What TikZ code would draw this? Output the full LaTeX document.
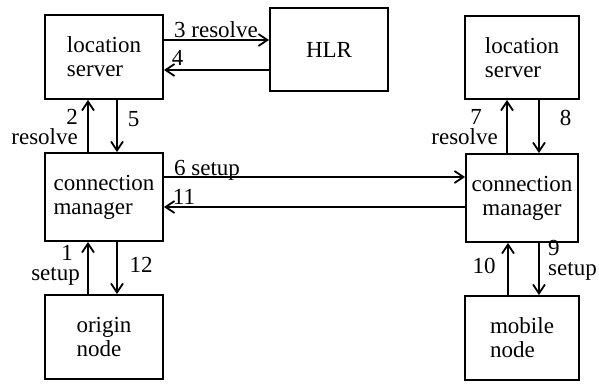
\documentclass[tikz,border=0pt]{standalone}
\usepackage{fontspec}
\setmainfont{Liberation Serif}
\usetikzlibrary{arrows.meta}
\tikzset{
  box/.style={draw, line width=1.8pt, rectangle, inner sep=0pt, align=left,
    font=\fontsize{23}{24}\selectfont},
  lbl/.style={anchor=base, inner sep=0pt, font=\fontsize{23}{24}\selectfont},
  lbl2/.style={anchor=base, inner sep=0pt, font=\fontsize{23}{20}\selectfont},
  arr/.style={line width=1.8pt, -{Straight Barb[length=9pt,width=12pt,line width=1.8pt]}},
}
\begin{document}
\begin{tikzpicture}[x=1pt,y=-1pt]
\useasboundingbox (0,0) rectangle (599,383);
% boxes
\node[box, minimum width=118pt, minimum height=84pt] (ls1) at (104,57) {location\\server};
\node[box, minimum width=118pt, minimum height=88pt] (cm1) at (104,197) {connection\\manager};
\node[box, minimum width=118pt, minimum height=84pt] (on) at (104,337) {origin\\node};
\node[box, minimum width=118pt, minimum height=83pt] (hlr) at (329,49.5) {HLR};
\node[box, minimum width=114pt, minimum height=83pt] (ls2) at (522,57.5) {location\\server};
\node[box, minimum width=112pt, minimum height=88pt, align=center] (cm2) at (522,198) {connection\\manager};
\node[box, minimum width=114pt, minimum height=84pt] (mn) at (522,338) {mobile\\node};
% connectors left column
\draw[arr] (ls1.east |- 0,40) -- (hlr.west |- 0,40);
\draw[arr] (hlr.west |- 0,70) -- (ls1.east |- 0,70);
\draw[arr] (cm1.north -| 88,0) -- (ls1.south -| 88,0);
\draw[arr] (ls1.south -| 117,0) -- (cm1.north -| 117,0);
\draw[arr] (on.north -| 88,0) -- (cm1.south -| 88,0);
\draw[arr] (cm1.south -| 117,0) -- (on.north -| 117,0);
% middle
\draw[arr] (cm1.east |- 0,177) -- (cm2.west |- 0,177);
\draw[arr] (cm2.west |- 0,207) -- (cm1.east |- 0,207);
% right column
\draw[arr] (cm2.north -| 507,0) -- (ls2.south -| 507,0);
\draw[arr] (ls2.south -| 539,0) -- (cm2.north -| 539,0);
\draw[arr] (mn.north -| 508,0) -- (cm2.south -| 508,0);
\draw[arr] (cm2.south -| 539,0) -- (mn.north -| 539,0);
% labels
\node[lbl] (l3) at (216,37) {3 resolve};
\node[lbl] (l4) at (177.5,65) {4};
\node[lbl2, align=right, anchor=north east] (l2) at (78,109) {2\\resolve};
\node[lbl] (l5) at (133.5,126) {5};
\node[lbl] (l6) at (207,175) {6 setup};
\node[lbl] (l11) at (184,204) {11};
\node[lbl2, align=right, anchor=north east] (l1) at (80,245) {1\hspace*{7pt}\\setup};
\node[lbl] (l12) at (141,272) {12};
\node[lbl2, align=center, anchor=north east] (l7) at (498,109) {\hspace*{23pt}7\\resolve};
\node[lbl] (l8) at (565.5,125) {8};
\node[lbl] (l10) at (484,273) {10};
\node[lbl2, align=left, anchor=north west] (l9) at (548,240) {9\\setup};
\end{tikzpicture}
\end{document}
